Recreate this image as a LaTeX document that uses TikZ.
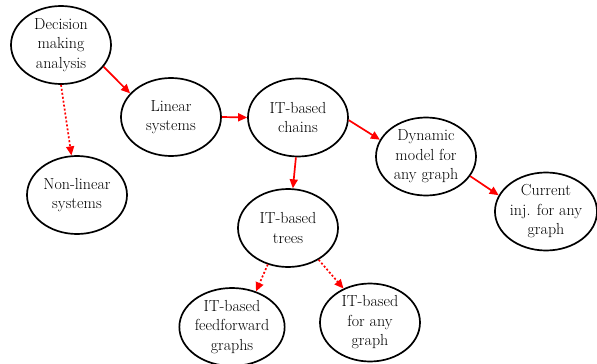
\documentclass[tikz,border=0pt]{standalone}
\usepackage{fontspec}
\usetikzlibrary{shapes.geometric,arrows.meta}
\begin{document}
\begin{tikzpicture}[x=1pt,y=1pt,
  bub/.style={ellipse,draw=black,line width=1.7pt,minimum width=100pt,minimum height=78pt,inner sep=0pt,align=center,font=\fontsize{16}{19.5}\selectfont},
  conn/.style={draw=red,line width=1.7pt,-{Triangle[length=9pt,width=8pt]}},
  dconn/.style={conn,dash pattern=on 2pt off 2pt}]
\useasboundingbox (0,0) rectangle (597,-364);
\node[bub] (dec) at (61,-45) {Decision\\making\\analysis};
\node[bub] (lin) at (171,-117) {Linear\\systems};
\node[bub] (ch) at (298,-117.5) {IT-based\\chains};
\node[bub] (nl) at (77,-195) {Non-linear\\systems};
\node[bub] (dyn) at (426,-156.5) {Dynamic\\model for\\any graph};
\node[bub] (cur) at (546,-211.5) {Current\\inj. for any\\graph};
\node[bub] (tr) at (288,-228) {IT-based\\trees};
\node[bub] (ff) at (232,-327) {IT-based\\feedforward\\graphs};
\node[bub] (ag) at (370,-322.5) {IT-based\\for any\\graph};
\draw[conn] (dec.-27) -- (lin.150);
\draw[conn] (lin.0) -- (ch.180);
\draw[conn] (ch.-3) -- (dyn.160);
\draw[conn] (dyn.-24) -- (cur.161);
\draw[conn] (ch.-93) -- (tr.83);
\draw[dconn] (dec.-90) -- (nl.98);
\draw[dconn] (tr.-119) -- (ff.56);
\draw[dconn] (tr.-46) -- (ag.128);
\end{tikzpicture}
\end{document}
